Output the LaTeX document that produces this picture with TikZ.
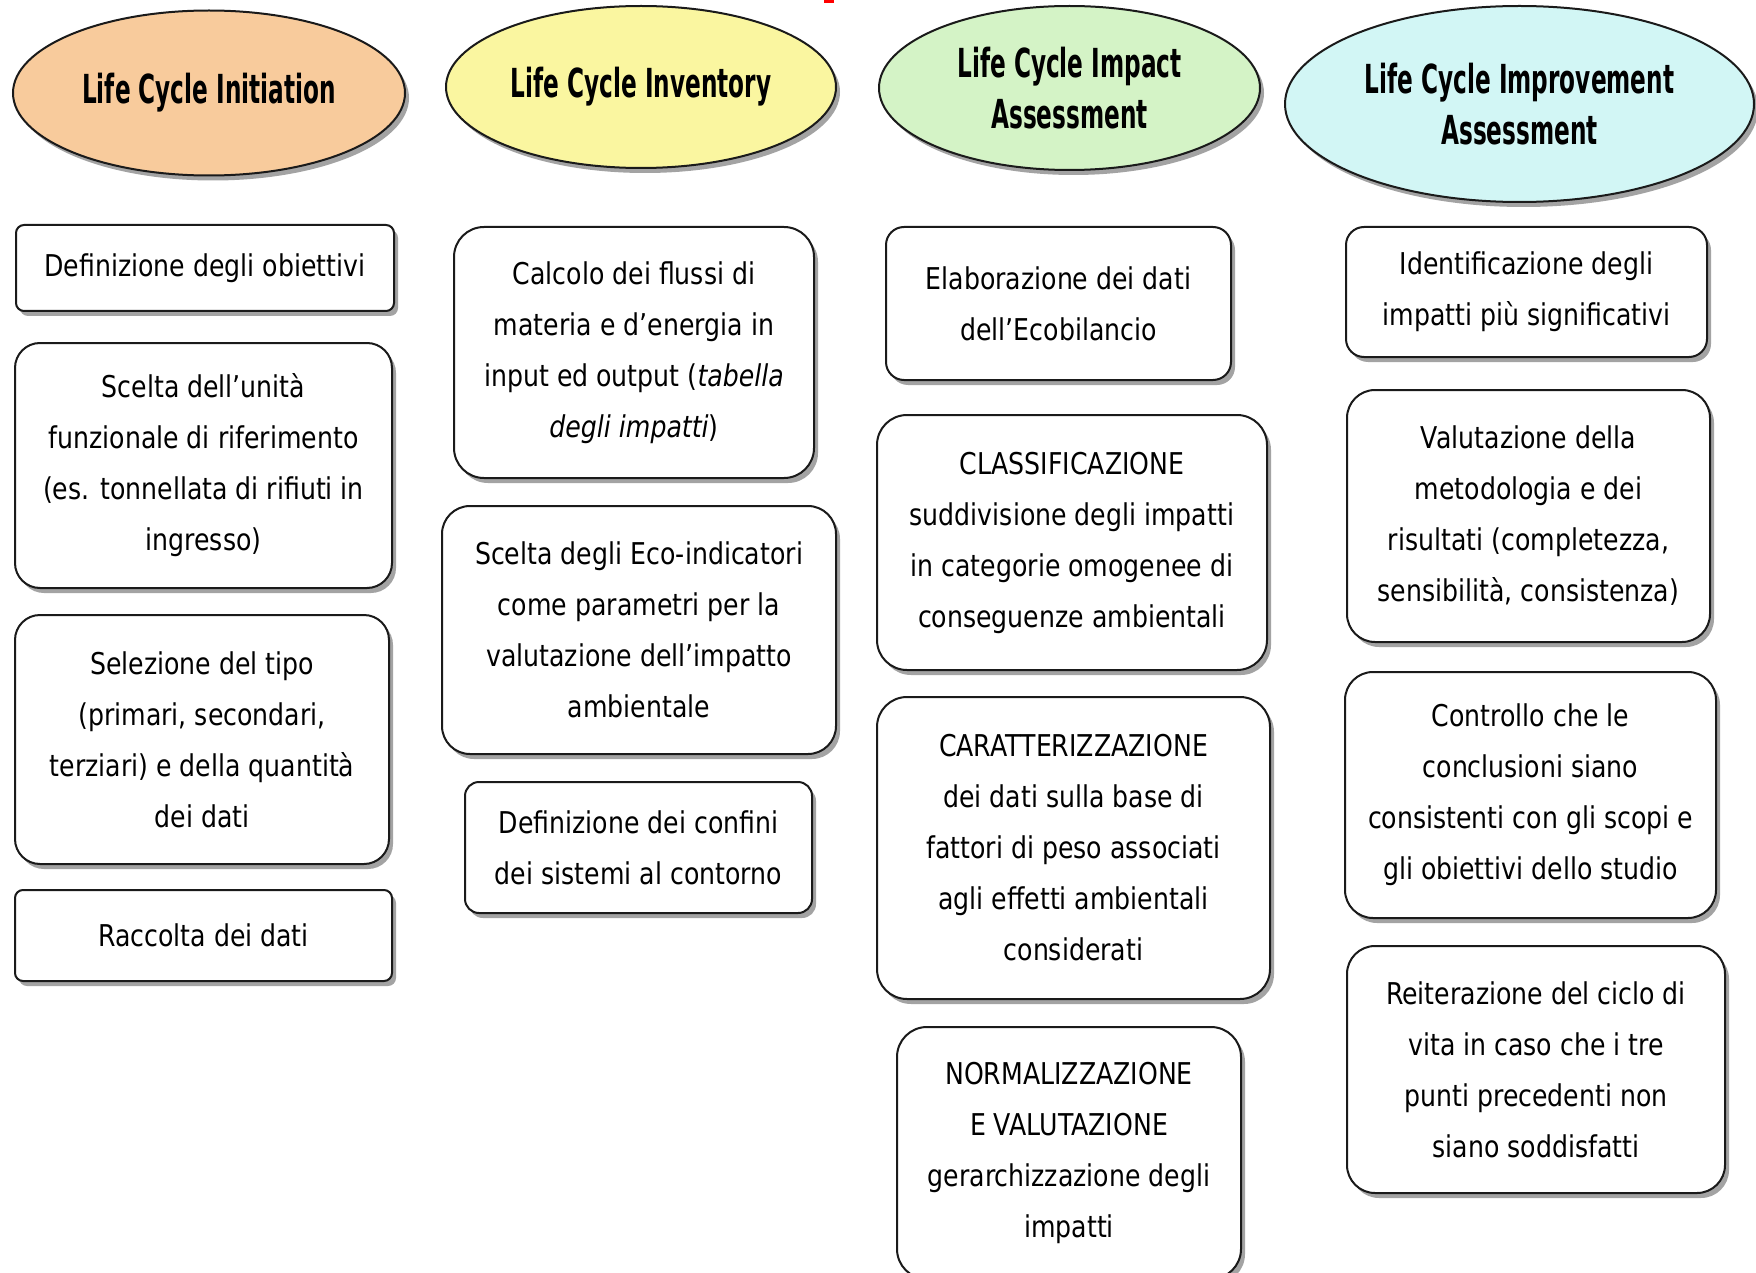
\documentclass[tikz,border=0pt]{standalone}
\usepackage{fontspec}
\usetikzlibrary{shapes.geometric,shadows}
\newfontfamily\bodyfont[FakeStretch=0.84]{DejaVu Sans}
\newfontfamily\phasefont[FakeStretch=0.58]{DejaVu Sans}
\definecolor{peach}{HTML}{F8CB9C}
\definecolor{paleyellow}{HTML}{FAF6A0}
\definecolor{palegreen}{HTML}{D4F3C6}
\definecolor{palecyan}{HTML}{D2F6F5}
\definecolor{edge}{HTML}{1A1A1A}
\tikzset{
  softshadow/.style={drop shadow={shadow xshift=4pt, shadow yshift=-5pt, fill=black!60, opacity=.6}},
  phase/.style={ellipse, draw=edge, line width=2pt, inner sep=0pt, align=center,
    font=\phasefont\bfseries\fontsize{40}{51}\selectfont, softshadow},
  card/.style={rectangle, draw=edge, line width=2pt, fill=white, inner sep=0pt, align=center,
    font=\bodyfont\fontsize{30}{51}\selectfont, softshadow},
}
\begin{document}
\begin{tikzpicture}[x=1pt,y=-1pt]
\useasboundingbox (0,0) rectangle (1756,1273);
\fill[white] (0,0) rectangle (1756,1273);
\fill[red] (824,0) rectangle (834,3);

% phase headers
\node[phase, fill=peach, minimum width=392pt, minimum height=165pt] (p1) at (209,93) {Life Cycle Initiation};
\node[phase, fill=paleyellow, minimum width=390pt, minimum height=162pt] (p2) at (641,87) {Life Cycle Inventory};
\node[phase, fill=palegreen, minimum width=381pt, minimum height=164pt] (p3) at (1069.5,88) {Life Cycle Impact\\Assessment};
\node[phase, fill=palecyan, minimum width=469pt, minimum height=196pt] (p4) at (1519.5,104) {Life Cycle Improvement\\Assessment};

% initiation
\node[card, rounded corners=8pt, minimum width=378pt, minimum height=86pt] (a1) at (205,268)
  {Definizione degli obiettivi};
\node[card, rounded corners=25pt, minimum width=377pt, minimum height=245pt] (a2) at (203.5,465.5)
  {Scelta dell’unità\\funzionale di riferimento\\(es. tonnellata di rifiuti in\\ingresso)};
\node[card, rounded corners=25pt, minimum width=374pt, minimum height=249pt] (a3) at (202,739.5)
  {Selezione del tipo\\(primari, secondari,\\terziari) e della quantità\\dei dati};
\node[card, rounded corners=8pt, minimum width=377pt, minimum height=91pt] (a4) at (203.5,935.5)
  {Raccolta dei dati};

% inventory
\node[card, rounded corners=30pt, minimum width=360pt, minimum height=251pt] (b1) at (634,352.5)
  {Calcolo dei flussi di\\materia e d’energia in\\input ed output (\textit{tabella}\\\textit{degli impatti})};
\node[card, rounded corners=28pt, minimum width=394pt, minimum height=248pt] (b2) at (639,630)
  {Scelta degli Eco-indicatori\\come parametri per la\\valutazione dell’impatto\\ambientale};
\node[card, rounded corners=14pt, minimum width=347pt, minimum height=131pt] (b3) at (638.5,847.5)
  {Definizione dei confini\\dei sistemi al contorno};

% impact assessment
\node[card, rounded corners=18pt, minimum width=345pt, minimum height=153pt] (c1) at (1058.5,303.5)
  {Elaborazione dei dati\\dell’Ecobilancio};
\node[card, rounded corners=30pt, minimum width=390pt, minimum height=255pt] (c2) at (1072,542.5)
  {CLASSIFICAZIONE\\suddivisione degli impatti\\in categorie omogenee di\\conseguenze ambientali};
\node[card, rounded corners=30pt, minimum width=393pt, minimum height=302pt] (c3) at (1073.5,848)
  {CARATTERIZZAZIONE\\dei dati sulla base di\\fattori di peso associati\\agli effetti ambientali\\considerati};
\node[card, rounded corners=30pt, minimum width=344pt, minimum height=252pt] (c4) at (1069,1153)
  {NORMALIZZAZIONE\\E VALUTAZIONE\\gerarchizzazione degli\\impatti};

% improvement assessment
\node[card, rounded corners=18pt, minimum width=361pt, minimum height=130pt] (d1) at (1526.5,292)
  {Identificazione degli\\impatti più significativi};
\node[card, rounded corners=28pt, minimum width=363pt, minimum height=252pt] (d2) at (1528.5,516)
  {Valutazione della\\metodologia e dei\\risultati (completezza,\\sensibilità, consistenza)};
\node[card, rounded corners=28pt, minimum width=371pt, minimum height=246pt] (d3) at (1530.5,795)
  {Controllo che le\\conclusioni siano\\consistenti con gli scopi e\\gli obiettivi dello studio};
\node[card, rounded corners=28pt, minimum width=378pt, minimum height=247pt] (d4) at (1536,1069.5)
  {Reiterazione del ciclo di\\vita in caso che i tre\\punti precedenti non\\siano soddisfatti};
\end{tikzpicture}
\end{document}
